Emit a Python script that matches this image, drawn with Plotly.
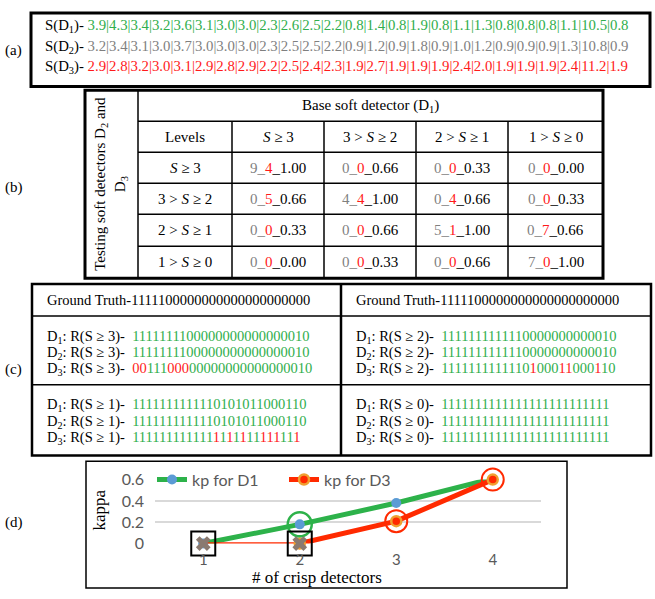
import plotly.graph_objects as go

W, H = 655, 599
SERIF = "Liberation Serif"
SANS = "Lato"
GREEN = "#2fae4c"
GRAY = "#7f7f7f"
RED = "#ff1a1a"
GREEN_LINE = "#2db24a"
RED_LINE = "#ff2a00"
BLUE = "#5b9bd5"
ORANGE = "#f0a030"
TICK = "#595959"

# (a) soft detector scores for the 25 samples
s_d1 = [3.9, 4.3, 3.4, 3.2, 3.6, 3.1, 3.0, 3.0, 2.3, 2.6, 2.5, 2.2, 0.8, 1.4, 0.8,
        1.9, 0.8, 1.1, 1.3, 0.8, 0.8, 0.8, 1.1, 10.5, 0.8]
s_d2 = [3.2, 3.4, 3.1, 3.0, 3.7, 3.0, 3.0, 3.0, 2.3, 2.5, 2.5, 2.2, 0.9, 1.2, 0.9,
        1.8, 0.9, 1.0, 1.2, 0.9, 0.9, 0.9, 1.3, 10.8, 0.9]
s_d3 = [2.9, 2.8, 3.2, 3.0, 3.1, 2.9, 2.8, 2.9, 2.2, 2.5, 2.4, 2.3, 1.9, 2.7, 1.9,
        1.9, 1.9, 2.4, 2.0, 1.9, 1.9, 1.9, 2.4, 11.2, 1.9]

# (b) agreement table: counts for D2 and D3, and level weights
levels = ["<i>S</i> ≥ 3", "3 > <i>S</i> ≥ 2", "2 > <i>S</i> ≥ 1", "1 > <i>S</i> ≥ 0"]
d2_counts = [[9, 0, 0, 0], [0, 4, 0, 0], [0, 0, 5, 0], [0, 0, 0, 7]]
d3_counts = [[4, 0, 0, 0], [5, 4, 4, 0], [0, 0, 1, 7], [0, 0, 0, 0]]
weights = [[1.00, 0.66, 0.33, 0.00], [0.66, 1.00, 0.66, 0.33],
           [0.33, 0.66, 1.00, 0.66], [0.00, 0.33, 0.66, 1.00]]

# (c) crisp responses at each threshold
ground_truth = "1111100000000000000000000"
thresholds = ["S ≥ 3", "S ≥ 2", "S ≥ 1", "S ≥ 0"]
crisp_d1 = ["1111111100000000000000010", "1111111111110000000000010",
            "1111111111110101011000110", "1111111111111111111111111"]
crisp_d2 = ["1111111100000000000000010", "1111111111110000000000010",
            "1111111111110101011000110", "1111111111111111111111111"]
crisp_d3 = ["0011100000000000000000010", "1111111111110100011000110",
            "1111111111111111111111111", "1111111111111111111111111"]

# (d) kappa against number of crisp detectors
n_crisp = [1, 2, 3, 4]
kappa_d1 = [0.0, 0.18, 0.38, 0.61]
kappa_d3 = [0.0, 0.0, 0.21, 0.60]


def px(x):
    return x / W


def py(y):
    return 1 - y / H


shapes = []
annotations = []


def rect(x0, y0, x1, y1, w, color="black"):
    shapes.append(dict(type="rect", xref="paper", yref="paper",
                       x0=px(x0), x1=px(x1), y0=py(y1), y1=py(y0),
                       line=dict(color=color, width=w), fillcolor="rgba(0,0,0,0)"))


def seg(x0, y0, x1, y1, w, color="black"):
    shapes.append(dict(type="line", xref="paper", yref="paper",
                       x0=px(x0), x1=px(x1), y0=py(y0), y1=py(y1),
                       line=dict(color=color, width=w)))


def text(x, y, s, size=15, anchor="left", family=SERIF, color="black", angle=0):
    annotations.append(dict(xref="paper", yref="paper", x=px(x), y=py(y), text=s,
                            showarrow=False, xanchor=anchor, yanchor="middle",
                            textangle=angle, borderpad=0,
                            font=dict(family=family, size=size, color=color)))


def span(s, color):
    return f'<span style="color:{color}">{s}</span>'


def bits_html(bits, ref=None):
    runs = []
    for i, b in enumerate(bits):
        c = RED if (ref is not None and b != ref[i]) else GREEN
        if runs and runs[-1][0] == c:
            runs[-1][1] += b
        else:
            runs.append([c, b])
    return "".join(span(r, c) for c, r in runs)


# ---- panel (a)
rect(31, 3, 650, 79, 3)
rows_a = [("1", s_d1, GREEN), ("2", s_d2, GRAY), ("3", s_d3, RED)]
for (k, vals, col), yy in zip(rows_a, [17, 38, 59]):
    body = "|".join(f"{v:.1f}" for v in vals)
    text(44, yy, f"S(D<sub>{k}</sub>)- " + span(body, col), size=14.8)
text(4, 42, "(a)", size=15)

# ---- panel (b)
bx = [85, 138, 232, 324, 416, 508, 603]
by = [83, 115, 147, 179, 211, 244, 277]
rect(bx[0], by[0], bx[-1], by[-1], 3)
seg(bx[1], by[0], bx[1], by[-1], 1.5)
for yy in by[1:-1]:
    seg(bx[1], yy, bx[-1], yy, 1.5)
for xx in bx[2:-1]:
    seg(xx, by[1], xx, by[-1], 1.5)
text((bx[1] + bx[-1]) / 2, (by[0] + by[1]) / 2, "Base soft detector (D<sub>1</sub>)",
     anchor="center")
text((bx[1] + bx[2]) / 2, (by[1] + by[2]) / 2, "Levels", anchor="center")
for j, lv in enumerate(levels):
    text((bx[j + 2] + bx[j + 3]) / 2, (by[1] + by[2]) / 2, lv, anchor="center")
for i, lv in enumerate(levels):
    yy = (by[i + 2] + by[i + 3]) / 2
    text((bx[1] + bx[2]) / 2, yy, lv, anchor="center")
    for j in range(4):
        cell = (span(f"{d2_counts[i][j]}_", GRAY) + span(str(d3_counts[i][j]), RED)
                + f"_{weights[i][j]:.2f}")
        text((bx[j + 2] + bx[j + 3]) / 2, yy, cell, anchor="center")
text((bx[0] + bx[1]) / 2, (by[0] + by[-1]) / 2,
     "Testing soft detectors D<sub>2</sub> and<br>D<sub>3</sub>", anchor="center", angle=-90)
text(4, 183, "(b)", size=15)

# ---- panel (c)
cx = [32, 341, 651]
cy = [283, 316, 387, 460]
rect(cx[0], cy[0], cx[-1], cy[-1], 2.5)
seg(cx[1], cy[0], cx[1], cy[-1], 2.5)
seg(cx[0], cy[1], cx[-1], cy[1], 1.5)
seg(cx[0], cy[2], cx[-1], cy[2], 1.5)
for c in range(2):
    text(cx[c] + 14, (cy[0] + cy[1]) / 2, "Ground Truth-" + ground_truth, size=14.5)
line_y = [[338, 354, 371], [408, 425, 442]]
for t, thr in enumerate(thresholds):
    col, blk = t % 2, t // 2
    x0 = cx[col] + 14
    for k, (bits, ref) in enumerate([(crisp_d1[t], None), (crisp_d2[t], crisp_d1[t]),
                                     (crisp_d3[t], crisp_d1[t])]):
        text(x0, line_y[blk][k], f"D<sub>{k + 1}</sub>: R({thr})-  " + bits_html(bits, ref),
             size=14.5)
text(4, 371, "(c)", size=15)

# ---- panel (d)
rect(86, 466, 567, 597, 1.5)
text(4, 529, "(d)", size=15)
text(100, 517, "kappa", size=17, anchor="center", angle=-90)
text(317, 586, "# of crisp detectors", size=17, anchor="center")

fig = go.Figure()
fig.add_trace(go.Scatter(x=n_crisp, y=kappa_d1, mode="lines+markers", name="kp for D1",
                         line=dict(color=GREEN_LINE, width=5),
                         marker=dict(color=BLUE, size=10), cliponaxis=False,
                         legend="legend"))
fig.add_trace(go.Scatter(x=n_crisp[:2], y=kappa_d3[:2], mode="lines",
                         line=dict(color=RED_LINE, width=2.5), showlegend=False,
                         cliponaxis=False))
fig.add_trace(go.Scatter(x=n_crisp[1:], y=kappa_d3[1:], mode="lines+markers",
                         name="kp for D3", line=dict(color=RED_LINE, width=5),
                         marker=dict(color=RED_LINE, size=10,
                                     line=dict(color=ORANGE, width=2.5)),
                         cliponaxis=False, legend="legend2"))
# highlight rings and boxes
fig.add_trace(go.Scatter(x=[n_crisp[1], n_crisp[3]], y=[kappa_d1[1], kappa_d1[3]],
                         mode="markers", showlegend=False, cliponaxis=False,
                         marker=dict(symbol="circle-open", size=24, color=GREEN_LINE,
                                     line=dict(width=2.5))))
fig.add_trace(go.Scatter(x=[n_crisp[2], n_crisp[3]], y=[kappa_d3[2], kappa_d3[3]],
                         mode="markers", showlegend=False, cliponaxis=False,
                         marker=dict(symbol="circle-open", size=22, color=RED_LINE,
                                     line=dict(width=2))))
fig.add_trace(go.Scatter(x=[n_crisp[0], n_crisp[1]], y=[kappa_d1[0], kappa_d3[1]],
                         mode="markers", showlegend=False, cliponaxis=False,
                         marker=dict(symbol="x", size=13, color="#8a7a70",
                                     line=dict(width=0))))
fig.add_trace(go.Scatter(x=[n_crisp[0], n_crisp[1]], y=[kappa_d1[0], kappa_d3[1]],
                         mode="markers", showlegend=False, cliponaxis=False,
                         marker=dict(symbol="square-open", size=24, color="black",
                                     line=dict(width=2))))

fig.update_layout(
    width=W, height=H, margin=dict(l=0, r=0, t=0, b=0),
    paper_bgcolor="white", plot_bgcolor="white",
    shapes=shapes, annotations=annotations,
    xaxis=dict(domain=[px(155), px(541)], range=[0.5, 4.5], tickvals=n_crisp,
               showgrid=False, zeroline=False, showline=False, ticks="",
               ticklabelstandoff=5, tickfont=dict(family=SANS, size=15, color=TICK)),
    yaxis=dict(domain=[py(551), py(485)], range=[0, 0.6], tickvals=[0, 0.2, 0.4, 0.6],
               ticktext=["0", "0.2", "0.4", "0.6"], showgrid=True, gridcolor="#d9d9d9",
               gridwidth=1.5, zeroline=False, showline=False, ticks="",
               ticklabelstandoff=10, tickfont=dict(family=SANS, size=16, color=TICK)),
    legend=dict(x=px(152), y=py(485), xanchor="left", yanchor="middle",
                bgcolor="white", borderwidth=0, font=dict(family=SANS, size=16, color=TICK)),
    legend2=dict(x=px(284), y=py(485), xanchor="left", yanchor="middle",
                 bgcolor="white", borderwidth=0, font=dict(family=SANS, size=16, color=TICK)),
)

fig.write_html("out.html")
